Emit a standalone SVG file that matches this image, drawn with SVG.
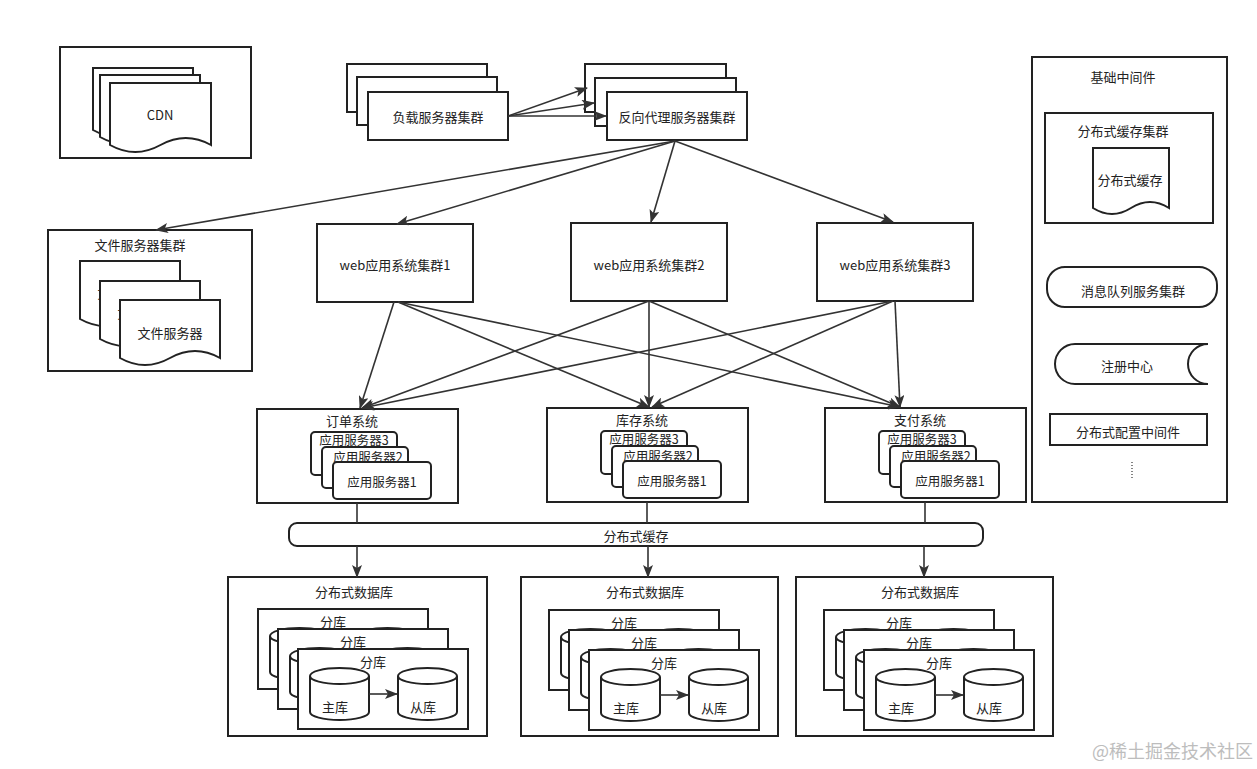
<svg xmlns="http://www.w3.org/2000/svg" width="1257" height="769" viewBox="0 0 1257 769">
<style>
.box{fill:#fff;stroke:#222;stroke-width:2}
.t{font-family:"Noto Sans CJK SC","Liberation Sans",sans-serif;font-size:13px;fill:#222;text-anchor:middle;dominant-baseline:central}
.s{font-size:12.5px}
.e{stroke:#333;stroke-width:1.6;fill:none;marker-end:url(#ah)}
.l{stroke:#333;stroke-width:1.6;fill:none}
</style>
<defs>
<marker id="ah" markerUnits="userSpaceOnUse" markerWidth="13" markerHeight="10" refX="12" refY="5" orient="auto">
<path d="M0,0 L13,5 L0,10 L3,5 Z" fill="#333"/>
</marker>
<g id="cyl">
<path class="box" d="M0,8 A29.5,8 0 0 1 59,8 V44 A29.5,8 0 0 1 0,44 Z"/>
<path class="box" d="M0,8 A29.5,8 0 0 0 59,8"/>
</g>
<g id="shard">
<rect class="box" x="0" y="0" width="170" height="80"/>
<text class="t" x="75" y="12">分库</text>
<use href="#cyl" x="12" y="19"/>
<use href="#cyl" x="100" y="19"/>
<text class="t" x="37" y="57">主库</text>
<text class="t" x="125" y="57">从库</text>
<line class="e" x1="71" y1="45" x2="99" y2="45"/>
</g>
</defs>
<rect width="1257" height="769" fill="#fff"/>

<g id="cdn">
<rect class="box" x="60" y="47" width="191" height="111"/>
<path class="box" d="M93,68 H193 V130 Q168,116 143,130 Q118,144 93,130 Z"/>
<path class="box" d="M100,75 H200 V137 Q175,123 150,137 Q125,151 100,137 Z"/>
<path class="box" d="M110,83 H211 V145 Q185.75,131 160.5,145 Q135.25,159 110,145 Z"/>
<text class="t" x="160" y="114">CDN</text>
</g>

<g id="lb">
<rect class="box" x="347" y="64" width="140" height="48"/>
<rect class="box" x="357" y="77" width="140" height="48"/>
<rect class="box" x="368" y="92" width="140" height="48"/>
<text class="t" x="438" y="116">负载服务器集群</text>
</g>

<g id="proxy">
<rect class="box" x="585" y="64" width="141" height="48"/>
<rect class="box" x="595" y="78" width="141" height="48"/>
<rect class="box" x="607" y="92" width="140" height="48"/>
<text class="t" x="677" y="116">反向代理服务器集群</text>
</g>

<g id="fileservers">
<rect class="box" x="48" y="230" width="204" height="141"/>
<text class="t" x="140" y="244">文件服务器集群</text>
<path class="box" d="M80,261 H180 V319 Q155,305 130,319 Q105,333 80,319 Z"/>
<text class="t" x="130" y="292">文件服务器</text>
<path class="box" d="M100,281 H200 V339 Q175,325 150,339 Q125,353 100,339 Z"/>
<text class="t" x="150" y="312">文件服务器</text>
<path class="box" d="M120,300 H220 V358 Q195,344 170,358 Q145,372 120,358 Z"/>
<text class="t" x="170" y="332">文件服务器</text>
</g>

<g id="web1"><rect class="box" x="317" y="224" width="156" height="78"/><text class="t" x="395" y="264">web应用系统集群1</text></g>
<g id="web2"><rect class="box" x="571" y="223" width="156" height="78"/><text class="t" x="649" y="264">web应用系统集群2</text></g>
<g id="web3"><rect class="box" x="817" y="223" width="156" height="78"/><text class="t" x="895" y="264">web应用系统集群3</text></g>

<g id="order">
<rect class="box" x="257" y="409" width="201" height="94"/>
<text class="t" x="352" y="420">订单系统</text>
<rect class="box" x="311" y="432" width="86" height="43" rx="4"/>
<text class="t s" x="354" y="439">应用服务器3</text>
<rect class="box" x="322" y="447" width="86" height="41" rx="4"/>
<text class="t s" x="368" y="456">应用服务器2</text>
<rect class="box" x="333" y="462" width="98" height="37" rx="4"/>
<text class="t s" x="382" y="481">应用服务器1</text>
</g>

<g id="stock">
<rect class="box" x="547" y="408" width="201" height="94"/>
<text class="t" x="642" y="419">库存系统</text>
<rect class="box" x="601" y="431" width="86" height="43" rx="4"/>
<text class="t s" x="644" y="438">应用服务器3</text>
<rect class="box" x="612" y="446" width="86" height="41" rx="4"/>
<text class="t s" x="658" y="455">应用服务器2</text>
<rect class="box" x="623" y="461" width="98" height="37" rx="4"/>
<text class="t s" x="672" y="480">应用服务器1</text>
</g>

<g id="pay">
<rect class="box" x="825" y="408" width="201" height="94"/>
<text class="t" x="920" y="419">支付系统</text>
<rect class="box" x="879" y="431" width="86" height="43" rx="4"/>
<text class="t s" x="922" y="438">应用服务器3</text>
<rect class="box" x="890" y="446" width="86" height="41" rx="4"/>
<text class="t s" x="936" y="455">应用服务器2</text>
<rect class="box" x="901" y="461" width="98" height="37" rx="4"/>
<text class="t s" x="950" y="480">应用服务器1</text>
</g>

<g id="cachebar">
<rect class="box" x="289" y="523" width="694" height="23" rx="8"/>
<text class="t" x="636" y="535">分布式缓存</text>
</g>

<g id="db1">
<rect class="box" x="228" y="577" width="259" height="159"/>
<text class="t" x="354" y="591">分布式数据库</text>
<use href="#shard" x="258" y="609"/>
<use href="#shard" x="278" y="629"/>
<use href="#shard" x="298" y="649"/>
</g>
<g id="db2">
<rect class="box" x="521" y="577" width="257" height="159"/>
<text class="t" x="645" y="591">分布式数据库</text>
<use href="#shard" x="549" y="610"/>
<use href="#shard" x="569" y="630"/>
<use href="#shard" x="589" y="650"/>
</g>
<g id="db3">
<rect class="box" x="796" y="577" width="257" height="159"/>
<text class="t" x="920" y="591">分布式数据库</text>
<use href="#shard" x="824" y="610"/>
<use href="#shard" x="844" y="630"/>
<use href="#shard" x="864" y="650"/>
</g>

<g id="middleware">
<rect class="box" x="1032" y="57" width="195" height="445"/>
<text class="t" x="1123" y="76">基础中间件</text>
<rect class="box" x="1045" y="113" width="168" height="110"/>
<text class="t" x="1123" y="130">分布式缓存集群</text>
<path class="box" d="M1093,148 H1169 V208 Q1150,196 1131,208 Q1112,220 1093,208 Z"/>
<text class="t" x="1130" y="179">分布式缓存</text>
<rect class="box" x="1047" y="267" width="170" height="40" rx="18"/>
<text class="t" x="1133" y="290">消息队列服务集群</text>
<path class="box" d="M1208,344 H1075 A20,20 0 0 0 1075,384 H1208 A20,20 0 0 1 1208,344 Z"/>
<text class="t" x="1127" y="365">注册中心</text>
<rect class="box" x="1050" y="414" width="157" height="31"/>
<text class="t" x="1128" y="431">分布式配置中间件</text>
<line x1="1132" y1="462" x2="1132" y2="480" stroke="#333" stroke-width="1.2" stroke-dasharray="1,2"/>
</g>

<g id="connectors">
<line class="e" x1="508" y1="116" x2="587" y2="88"/>
<line class="e" x1="508" y1="116" x2="594" y2="103"/>
<line class="e" x1="508" y1="116" x2="606" y2="116"/>
<line class="e" x1="675" y1="141" x2="156" y2="230"/>
<line class="e" x1="675" y1="141" x2="397" y2="224"/>
<line class="e" x1="675" y1="141" x2="651" y2="222"/>
<line class="e" x1="675" y1="141" x2="893" y2="222"/>
<line class="e" x1="394" y1="302" x2="360" y2="408"/>
<line class="e" x1="398" y1="302" x2="649" y2="407"/>
<line class="e" x1="398" y1="302" x2="900" y2="407"/>
<line class="e" x1="649" y1="301" x2="362" y2="408"/>
<line class="e" x1="649" y1="301" x2="649" y2="407"/>
<line class="e" x1="649" y1="301" x2="900" y2="407"/>
<line class="e" x1="893" y1="301" x2="362" y2="408"/>
<line class="e" x1="893" y1="301" x2="652" y2="407"/>
<line class="e" x1="895" y1="301" x2="900" y2="407"/>
<line class="l" x1="357" y1="503" x2="357" y2="523"/>
<line class="l" x1="647" y1="502" x2="647" y2="523"/>
<line class="l" x1="925" y1="502" x2="925" y2="523"/>
<line class="e" x1="357" y1="546" x2="357" y2="577"/>
<line class="e" x1="648" y1="546" x2="648" y2="577"/>
<line class="e" x1="924" y1="546" x2="924" y2="577"/>
</g>

<text x="1253" y="758" text-anchor="end" font-family="Noto Sans CJK SC, sans-serif" font-size="18" fill="#bdbdbd">@稀土掘金技术社区</text>
</svg>
